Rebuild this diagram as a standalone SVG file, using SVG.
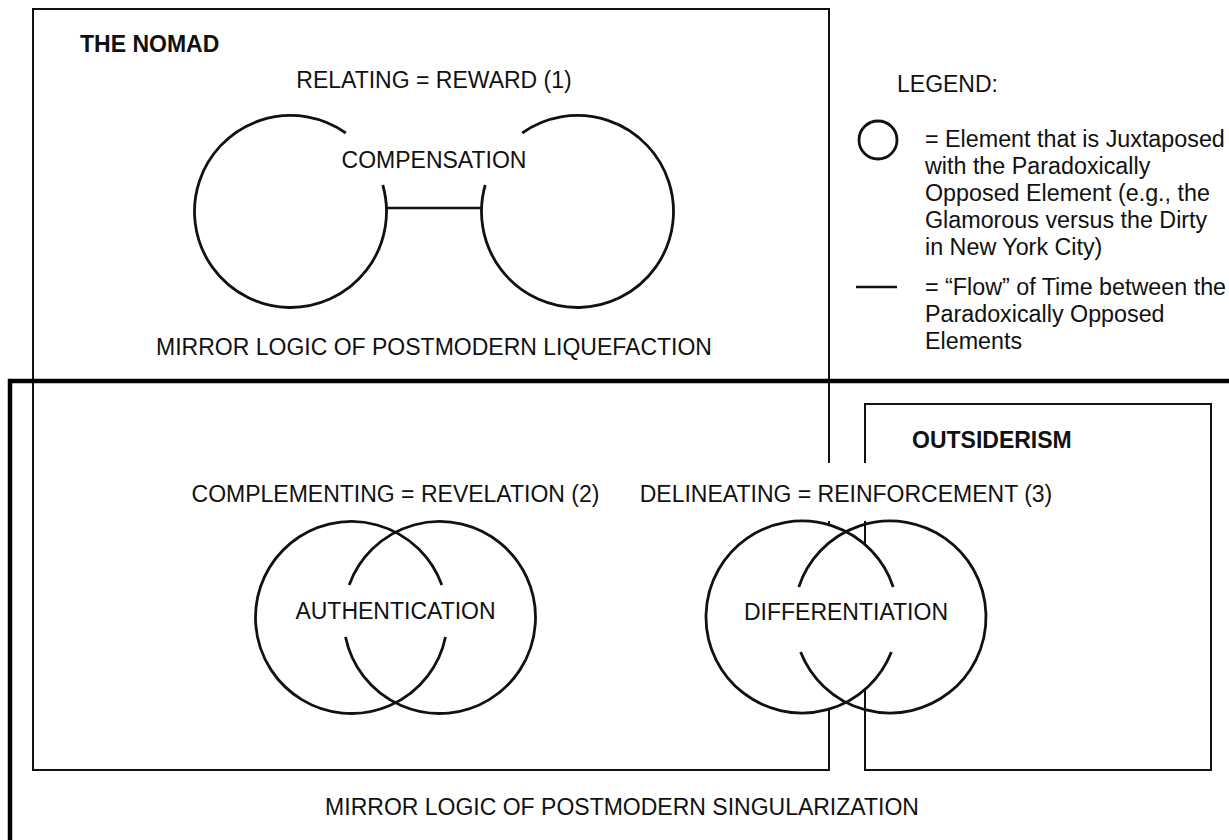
<svg xmlns="http://www.w3.org/2000/svg" width="1229" height="840" viewBox="0 0 1229 840">
  <style>
    text { font-family: "Liberation Sans", Arial, sans-serif; font-size: 23px; fill: #111; }
    .bold { font-weight: bold; }
    .mid { text-anchor: middle; }
    .frame { fill: none; stroke: #111; stroke-width: 2; stroke-linecap: square; }
    .heavy { fill: none; stroke: #000; stroke-width: 4.5; }
    .ring { fill: none; stroke: #111; stroke-width: 2.8; }
    .flow { fill: none; stroke: #111; stroke-width: 2.6; }
    .key { font-size: 23.3px; }
  </style>
  <rect width="1229" height="840" fill="#fff"/>

  <!-- The Nomad frame (right side broken by the label and the Venn) -->
  <g id="nomad-frame">
    <path class="frame" d="M829,462 V9 H33 V770 H829 V709.1"/>
    <path class="frame" d="M829,522 V524.9"/>
    <text class="bold" x="80" y="52">THE NOMAD</text>
  </g>

  <!-- Singularization frame: heavy line running off the right and bottom -->
  <g id="singularization-frame">
    <path class="heavy" d="M10,840 V381 H1229"/>
    <text class="mid" x="622" y="815">MIRROR LOGIC OF POSTMODERN SINGULARIZATION</text>
  </g>

  <!-- Outsiderism frame -->
  <g id="outsiderism-frame">
    <path class="frame" d="M865,462 V404 H1211 V770 H865 V689.4"/>
    <path class="frame" d="M865,522 V544.6"/>
    <text class="bold" x="912" y="448">OUTSIDERISM</text>
  </g>

  <!-- Relating = Reward: two separate elements -->
  <g id="compensation">
    <text class="mid" x="434" y="88">RELATING = REWARD (1)</text>
    <path class="ring" d="M382.77,185 A96,96 0 1 1 345.76,133"/>
    <path class="ring" d="M485.23,185 A96,96 0 1 0 522.24,133"/>
    <text class="mid" x="434" y="168">COMPENSATION</text>
    <text class="mid" x="434" y="355">MIRROR LOGIC OF POSTMODERN LIQUEFACTION</text>
  </g>

  <!-- Complementing = Revelation: overlapping elements -->
  <g id="authentication">
    <text class="mid" x="395.5" y="502">COMPLEMENTING = REVELATION (2)</text>
    <path class="ring" d="M441.83,585 A96,96 0 1 0 445.5,637"/>
    <path class="ring" d="M349.17,585 A96,96 0 1 1 345.5,637"/>
    <text class="mid" x="395.5" y="619">AUTHENTICATION</text>
  </g>

  <!-- Delineating = Reinforcement: overlapping elements -->
  <g id="differentiation">
    <text class="mid" x="846" y="502">DELINEATING = REINFORCEMENT (3)</text>
    <path class="ring" d="M893.19,587 A96,96 0 1 0 891.39,652"/>
    <path class="ring" d="M798.81,587 A96,96 0 1 1 800.61,652"/>
    <text class="mid" x="846" y="620">DIFFERENTIATION</text>
  </g>

  <!-- Flow of time between the paradoxically opposed elements -->
  <g id="connectors">
    <line class="flow" x1="386.4" y1="208" x2="481.6" y2="208"/>
  </g>

  <!-- Legend -->
  <g id="legend">
    <text x="897" y="92">LEGEND:</text>
    <circle class="ring" cx="878" cy="140" r="19"/>
    <text class="key" x="925" y="147">= Element that is Juxtaposed</text>
    <text class="key" x="925" y="174">with the Paradoxically</text>
    <text class="key" x="925" y="201">Opposed Element (e.g., the</text>
    <text class="key" x="925" y="228">Glamorous versus the Dirty</text>
    <text class="key" x="925" y="255">in New York City)</text>
    <line class="flow" x1="856" y1="287" x2="897" y2="287"/>
    <text class="key" x="925" y="295">= “Flow” of Time between the</text>
    <text class="key" x="925" y="322">Paradoxically Opposed</text>
    <text class="key" x="925" y="349">Elements</text>
  </g>
</svg>
